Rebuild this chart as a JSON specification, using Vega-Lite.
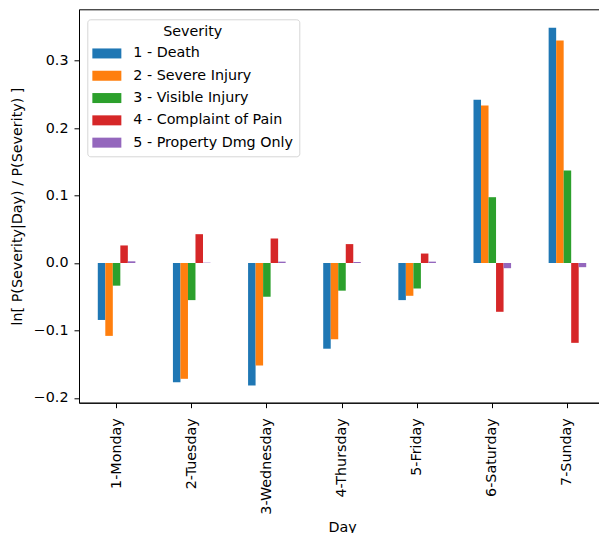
{
  "$schema": "https://vega.github.io/schema/vega-lite/v6.json",
  "width": 526,
  "height": 393.4,
  "autosize": {"type": "none"},
  "padding": {"left": 79, "top": 9.3, "right": 0, "bottom": 130.3},
  "background": "white",
  "config": {
    "font": "DejaVu Sans",
    "view": {"stroke": "#000", "strokeWidth": 1},
    "axis": {
      "domainColor": "#000",
      "domainWidth": 1,
      "tickColor": "#000",
      "tickWidth": 1,
      "tickSize": 5,
      "labelFontSize": 14.3,
      "labelColor": "#000",
      "titleFontSize": 14.3,
      "titleFontWeight": "normal",
      "titleColor": "#000",
      "grid": false
    }
  },
  "data": {
    "values": [
      {"Day": "1-Monday", "Severity": "1 - Death", "value": -0.0844},
      {"Day": "1-Monday", "Severity": "2 - Severe Injury", "value": -0.108},
      {"Day": "1-Monday", "Severity": "3 - Visible Injury", "value": -0.0336},
      {"Day": "1-Monday", "Severity": "4 - Complaint of Pain", "value": 0.026},
      {"Day": "1-Monday", "Severity": "5 - Property Dmg Only", "value": 0.0025},
      {"Day": "2-Tuesday", "Severity": "1 - Death", "value": -0.1766},
      {"Day": "2-Tuesday", "Severity": "2 - Severe Injury", "value": -0.1716},
      {"Day": "2-Tuesday", "Severity": "3 - Visible Injury", "value": -0.055},
      {"Day": "2-Tuesday", "Severity": "4 - Complaint of Pain", "value": 0.0427},
      {"Day": "2-Tuesday", "Severity": "5 - Property Dmg Only", "value": 0.0005},
      {"Day": "3-Wednesday", "Severity": "1 - Death", "value": -0.1815},
      {"Day": "3-Wednesday", "Severity": "2 - Severe Injury", "value": -0.152},
      {"Day": "3-Wednesday", "Severity": "3 - Visible Injury", "value": -0.05},
      {"Day": "3-Wednesday", "Severity": "4 - Complaint of Pain", "value": 0.0363},
      {"Day": "3-Wednesday", "Severity": "5 - Property Dmg Only", "value": 0.002},
      {"Day": "4-Thursday", "Severity": "1 - Death", "value": -0.127},
      {"Day": "4-Thursday", "Severity": "2 - Severe Injury", "value": -0.113},
      {"Day": "4-Thursday", "Severity": "3 - Visible Injury", "value": -0.041},
      {"Day": "4-Thursday", "Severity": "4 - Complaint of Pain", "value": 0.028},
      {"Day": "4-Thursday", "Severity": "5 - Property Dmg Only", "value": 0.0015},
      {"Day": "5-Friday", "Severity": "1 - Death", "value": -0.055},
      {"Day": "5-Friday", "Severity": "2 - Severe Injury", "value": -0.0486},
      {"Day": "5-Friday", "Severity": "3 - Visible Injury", "value": -0.0378},
      {"Day": "5-Friday", "Severity": "4 - Complaint of Pain", "value": 0.014},
      {"Day": "5-Friday", "Severity": "5 - Property Dmg Only", "value": 0.002},
      {"Day": "6-Saturday", "Severity": "1 - Death", "value": 0.2418},
      {"Day": "6-Saturday", "Severity": "2 - Severe Injury", "value": 0.2333},
      {"Day": "6-Saturday", "Severity": "3 - Visible Injury", "value": 0.0975},
      {"Day": "6-Saturday", "Severity": "4 - Complaint of Pain", "value": -0.0723},
      {"Day": "6-Saturday", "Severity": "5 - Property Dmg Only", "value": -0.0077},
      {"Day": "7-Sunday", "Severity": "1 - Death", "value": 0.3484},
      {"Day": "7-Sunday", "Severity": "2 - Severe Injury", "value": 0.3296},
      {"Day": "7-Sunday", "Severity": "3 - Visible Injury", "value": 0.137},
      {"Day": "7-Sunday", "Severity": "4 - Complaint of Pain", "value": -0.1183},
      {"Day": "7-Sunday", "Severity": "5 - Property Dmg Only", "value": -0.0062}
    ]
  },
  "mark": {"type": "bar"},
  "encoding": {
    "x": {
      "field": "Day",
      "type": "nominal",
      "sort": null,
      "scale": {"paddingInner": 0.5, "paddingOuter": 0.25},
      "axis": {
        "title": "Day",
        "labelAngle": -90,
        "labelAlign": "right",
        "labelBaseline": "middle",
        "labelPadding": 10,
        "bandPosition": 0.5,
        "titleBaseline": "alphabetic",
        "titleY": 129.2
      }
    },
    "xOffset": {
      "field": "Severity",
      "type": "nominal",
      "sort": null,
      "scale": {"paddingInner": 0, "paddingOuter": 0}
    },
    "y": {
      "field": "value",
      "type": "quantitative",
      "scale": {"domain": [-0.207, 0.3759], "nice": false, "zero": false},
      "axis": {
        "title": "ln[ P(Severity|Day) / P(Severity) ]",
        "values": [-0.2, -0.1, 0, 0.1, 0.2, 0.3],
        "format": ".1f",
        "labelPadding": 6,
        "titleX": -57.3,
        "titleY": 196.7,
        "titleAlign": "center",
        "titleBaseline": "alphabetic",
        "titleAngle": -90
      }
    },
    "color": {
      "field": "Severity",
      "type": "nominal",
      "scale": {
        "domain": ["1 - Death", "2 - Severe Injury", "3 - Visible Injury", "4 - Complaint of Pain", "5 - Property Dmg Only"],
        "range": ["#1f77b4", "#ff7f0e", "#2ca02c", "#d62728", "#9467bd"]
      },
      "legend": {
        "title": "Severity",
        "orient": "none",
        "legendX": 8.3,
        "legendY": 10,
        "padding": 5.4,
        "fillColor": "white",
        "strokeColor": "#d6d6d6",
        "cornerRadius": 3,
        "titleFontSize": 14.3,
        "titleFontWeight": "normal",
        "titleColor": "#000",
        "titleAnchor": "middle",
        "titleAlign": "center",
        "titlePadding": 7.3,
        "labelFontSize": 14.3,
        "labelColor": "#000",
        "symbolType": "M-2.9,-1H2.9V1H-2.9Z",
        "symbolSize": 100,
        "symbolStrokeWidth": 0,
        "symbolOpacity": 1,
        "symbolOffset": 7,
        "labelOffset": 19.3,
        "rowPadding": 7.3
      }
    }
  }
}
